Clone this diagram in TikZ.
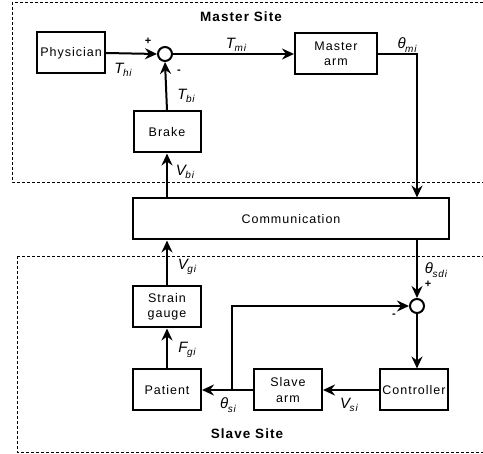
\documentclass[tikz,border=0pt]{standalone}
\usepackage{fontspec}
\setmainfont{Liberation Sans}[LetterSpace=8]
\usepackage{tikz}
\usetikzlibrary{shapes,arrows.meta,positioning}
\tikzstyle{block}=[rectangle, draw, line width=2pt, minimum width=68pt, minimum height=41pt, inner sep=2pt, text centered, align=center, font=\fontsize{12.5}{15.5}\selectfont]
\tikzstyle{sumpt}=[circle, draw, line width=2pt, minimum size=14pt, inner sep=0pt]
\tikzstyle{arr}=[line width=2pt, -{Stealth[length=12pt,width=11pt,inset=4pt]}]
\tikzstyle{site}=[dashed, line width=0.7pt, dash pattern=on 3pt off 2pt]
\tikzstyle{title}=[font=\fontsize{13.5}{13.5}\selectfont\bfseries]
\tikzstyle{sgn}=[font=\fontsize{11}{11}\selectfont\bfseries, inner sep=0pt]
\tikzstyle{lbl}=[inner sep=0pt]
\newcommand{\sig}[2]{{\fontsize{15}{15}\selectfont\itshape #1\kern-0.5pt\raisebox{-0.45ex}{\fontsize{10}{10}\selectfont #2}}}

\begin{document}
\begin{tikzpicture}[x=1pt,y=-1pt]
\useasboundingbox (0,0) rectangle (483,454);
%Sites
\draw[site] (12,2) rectangle (520,182);
\draw[site] (17,256) rectangle (520,452);
\node[title](mst) at (241,17){Master Site};
\node[title](sst) at (247,434){Slave Site};
%Row One
\node[block] (phys) at (71,53){Physician};
\node[sumpt] (sumM) at (165,54){};
\node[block, minimum width=82pt] (marm) at (336,54){Master\\arm};
\node[block, minimum width=67pt] (brake) at (167,132){Brake};
%Row Two
\node[block, minimum width=316pt] (comm) at (291,219){Communication};
%Row Three
\node[block] (strain) at (167,307){Strain\\gauge};
\node[sumpt] (sumS) at (417,306){};
\node[block] (patient) at (167,390){Patient};
\node[block] (sarm) at (288,390){Slave\\arm};
\node[block] (ctrl) at (414,390){Controller};
\coordinate (fb) at (232,390);
%Arrows
\draw[arr] (phys.east) -- (sumM.west);
\draw[arr] (sumM.east) -- (marm.west);
\draw[arr] (brake.north) -- (sumM.south);
\draw[arr] (marm.east) -| (comm.north -| sumS);
\draw[arr] (comm.north -| brake) -- (brake.south);
\draw[arr] (comm.south -| sumS) -- (sumS.north);
\draw[arr] (sumS.south) -- (sumS |- ctrl.north);
\draw[arr] (ctrl.west) -- (sarm.east);
\draw[arr] (sarm.west) -- (patient.east);
\draw[arr] (fb) |- (sumS.west);
\draw[arr] (patient.north) -- (strain.south);
\draw[arr] (strain.north) -- (comm.south -| strain);
%Labels
\node[lbl](thi) at (123,70){\sig{T}{hi}};
\node[sgn](pm) at (148,41){+};
\node[sgn](mm) at (179,72){-};
\node[lbl](tmi) at (236,45){\sig{T}{mi}};
\node[lbl](thmi) at (407,45){\sig{θ}{mi}};
\node[lbl](tbi) at (186,96){\sig{T}{bi}};
\node[lbl](vbi) at (185,172){\sig{V}{bi}};
\node[lbl](vgi) at (187,267){\sig{V}{gi}};
\node[lbl](thsdi) at (436,270){\sig{θ}{sdi}};
\node[sgn](ps) at (428,284){+};
\node[sgn](ms) at (394,316){-};
\node[lbl](fgi) at (187,350){\sig{F}{gi}};
\node[lbl](thsi) at (228,405){\sig{θ}{si}};
\node[lbl](vsi) at (349,405){\sig{V}{si}};
\end{tikzpicture}
\end{document}
